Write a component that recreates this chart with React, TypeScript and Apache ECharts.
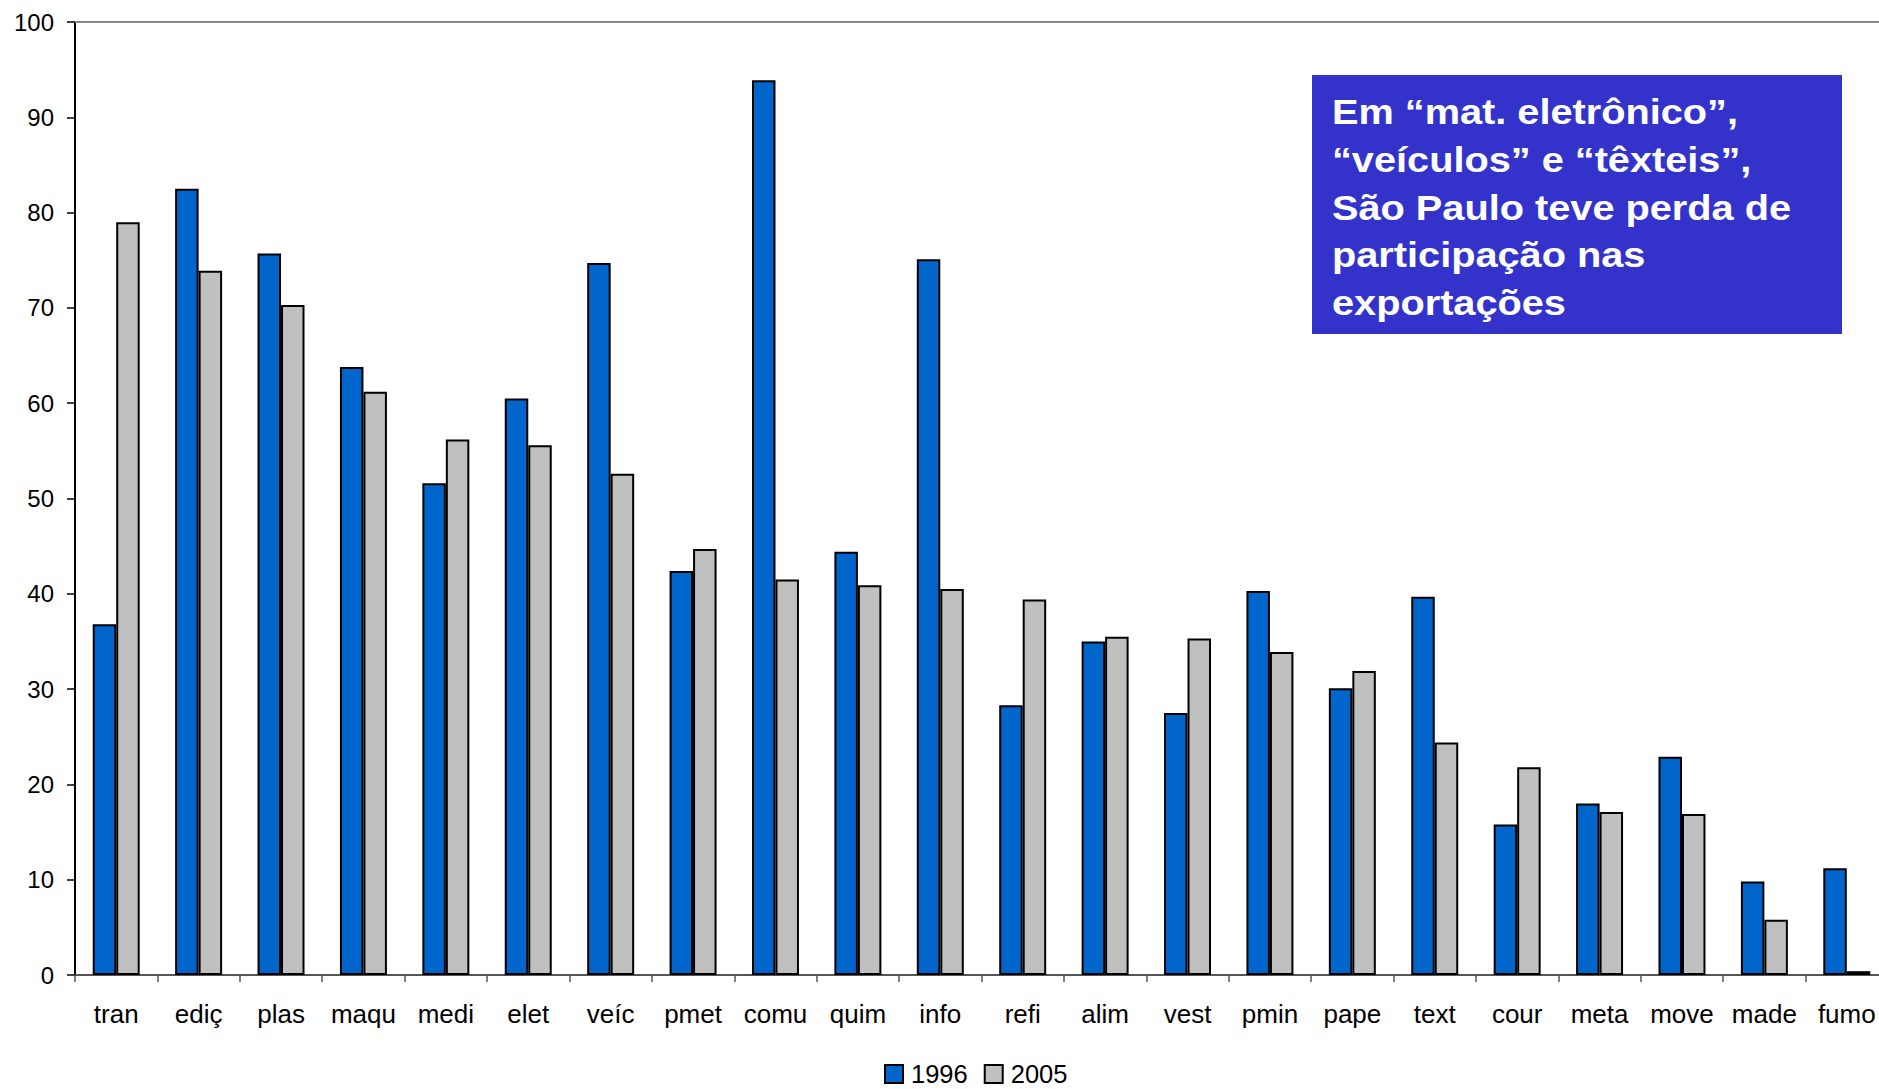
import React, { useEffect, useRef } from "react";
import * as echarts from "echarts";

const categories = ["tran", "ediç", "plas", "maqu", "medi", "elet", "veíc", "pmet", "comu", "quim", "info", "refi", "alim", "vest", "pmin", "pape", "text", "cour", "meta", "move", "made", "fumo"];
const values1996 = [36.8, 82.5, 75.7, 63.8, 51.6, 60.5, 74.7, 42.4, 93.9, 44.4, 75.1, 28.3, 35.0, 27.5, 40.3, 30.1, 39.7, 15.8, 18.0, 22.9, 9.8, 11.2];
const values2005 = [79.0, 73.9, 70.3, 61.2, 56.2, 55.6, 52.6, 44.7, 41.5, 40.9, 40.5, 39.4, 35.5, 35.3, 33.9, 31.9, 24.4, 21.8, 17.1, 16.9, 5.8, 0.4];
const yTicks = { min: 0, max: 100, interval: 10 };
const noteLines = [
  "Em “mat. eletrônico”,",
  "“veículos” e “têxteis”,",
  "São Paulo teve perda de",
  "participação nas",
  "exportações",
];

const FONT = "'Liberation Sans', Arial, sans-serif";

export default function App() {
  const ref = useRef<HTMLDivElement>(null);
  useEffect(() => {
    if (!ref.current) return;
    const chart = echarts.init(ref.current, null, { renderer: "svg" });
    chart.setOption({
      animation: false,
      backgroundColor: "#ffffff",
      textStyle: { fontFamily: FONT },
      grid: { left: 75, top: 22, right: 0, bottom: 114 },
      legend: {
        data: ["1996", "2005"],
        left: 884,
        top: 1061,
        padding: 0,
        itemWidth: 18,
        itemHeight: 18,
        itemGap: 16,
        icon: "rect",
        textStyle: {
          fontSize: 25.5,
          lineHeight: 22,
          color: "#000",
          fontFamily: FONT,
          padding: [0, 0, 0, 3],
        },
        itemStyle: { borderColor: "#000", borderWidth: 2 },
      },
      xAxis: [
        {
          type: "category",
          data: categories,
          boundaryGap: true,
          axisLine: { show: true, lineStyle: { color: "#555", width: 2 } },
          axisTick: { show: true, length: 7, lineStyle: { color: "#555", width: 1.5 } },
          axisLabel: { color: "#000", fontSize: 26, margin: 26, fontFamily: FONT, interval: 0 },
          splitLine: { show: false },
        },
        {
          type: "category",
          data: categories,
          position: "top",
          axisLine: { show: true, lineStyle: { color: "#888", width: 2 } },
          axisTick: { show: false },
          axisLabel: { show: false },
        },
      ],
      yAxis: {
        type: "value",
        min: yTicks.min,
        max: yTicks.max,
        interval: yTicks.interval,
        axisLine: { show: true, lineStyle: { color: "#000", width: 2 } },
        axisTick: { show: true, length: 8, lineStyle: { color: "#000", width: 1.5 } },
        axisLabel: { color: "#000", fontSize: 24, margin: 21, fontFamily: FONT },
        splitLine: { show: false },
      },
      series: [
        {
          name: "1996",
          type: "bar",
          data: values1996,
          barGap: "0%",
          barCategoryGap: "43%",
          itemStyle: { color: "#0066CC", borderColor: "#000", borderWidth: 2 },
        },
        {
          name: "2005",
          type: "bar",
          data: values2005,
          barGap: "0%",
          barCategoryGap: "43%",
          itemStyle: { color: "#C0C0C0", borderColor: "#000", borderWidth: 2 },
        },
      ],
      graphic: [
        {
          type: "group",
          left: 1312,
          top: 75,
          children: [
            {
              type: "rect",
              shape: { x: 0, y: 0, width: 530, height: 259 },
              style: { fill: "#3333CC" },
            },
            {
              type: "text",
              x: 20,
              y: 13,
              scaleX: 1.135,
              style: {
                text: noteLines.join("\n"),
                fill: "#ffffff",
                font: `bold 35px ${FONT}`,
                lineHeight: 47.75,
                verticalAlign: "top",
              },
            },
          ],
        },
      ],
    });
    return () => chart.dispose();
  }, []);
  return (
    <div style={{ position: "fixed", left: 0, top: 0, width: 1879, height: 1089, overflow: "hidden" }}>
      <div ref={ref} style={{ width: 1888, height: 1089 }} />
    </div>
  );
}
